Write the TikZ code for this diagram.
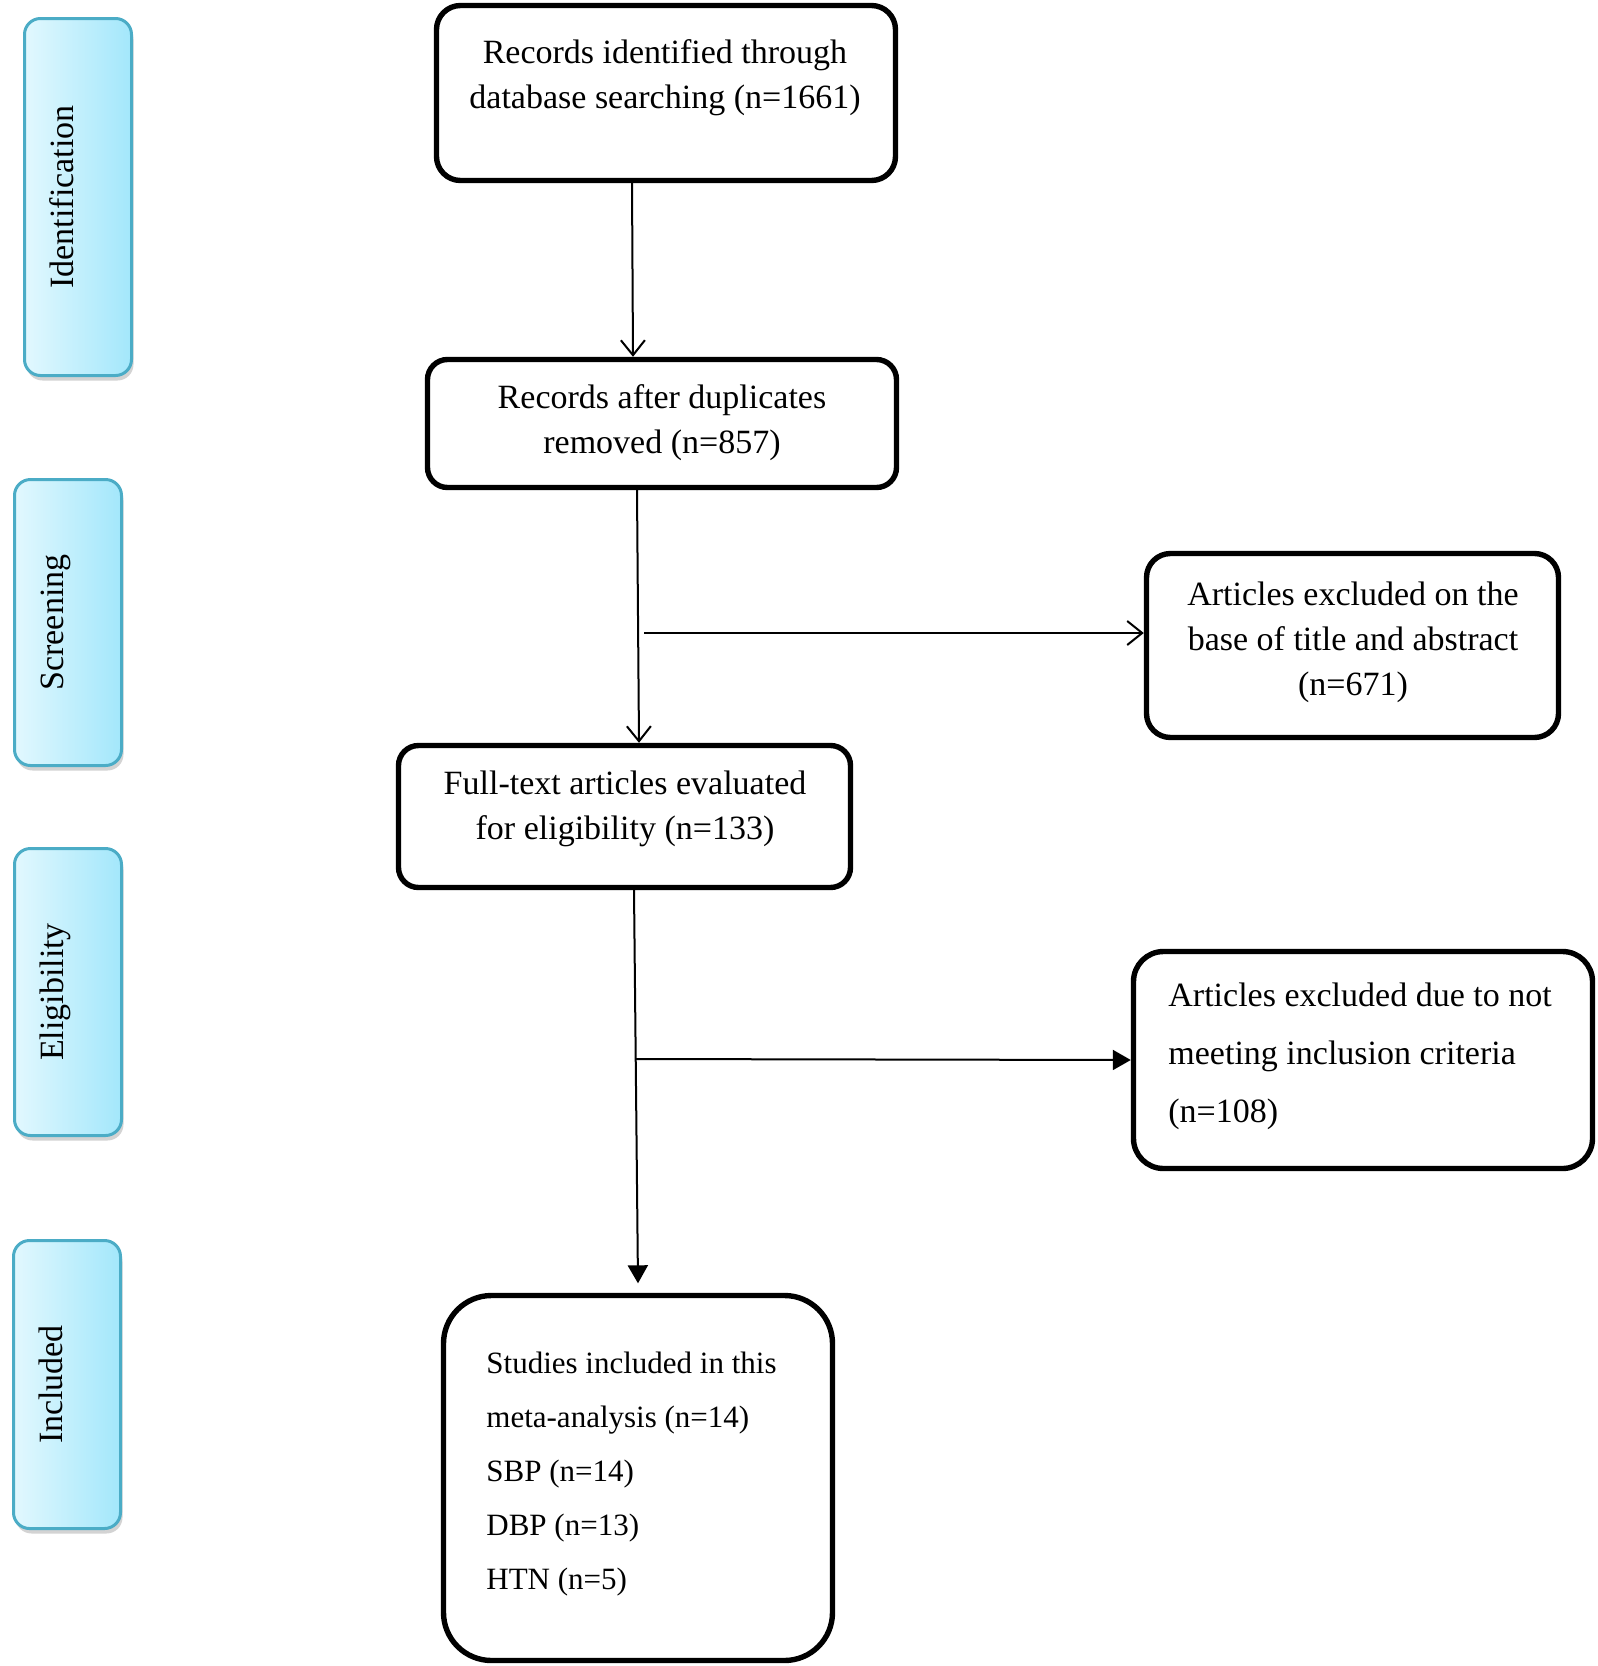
\documentclass[tikz,border=0pt]{standalone}
\usepackage{fontspec}
\setmainfont{Liberation Serif}
\usetikzlibrary{arrows.meta,shadows}

\definecolor{stageedge}{HTML}{4BACC6}
\definecolor{stageleft}{HTML}{E2F8FE}
\definecolor{stageright}{HTML}{A3E7FB}

\tikzset{
	stage/.style={draw=stageedge, line width=1.5pt, rounded corners=8pt, left color=stageleft, right color=stageright,
		minimum width=53.5pt, inner sep=0pt, drop shadow={shadow xshift=1pt, shadow yshift=-2.5pt, opacity=0.35}},
	stagetext/.style={rotate=90, anchor=base, inner sep=0pt, font=\fontsize{17}{20}\selectfont},
	flowbox/.style={draw, line width=2.7pt, rounded corners=12pt, inner sep=0pt},
	boxtext/.style={inner sep=0pt, anchor=north, align=center, font=\fontsize{17}{22.5}\selectfont},
	openarr/.style={line width=1pt, -{Straight Barb[length=7.5pt, width=12pt, line width=1pt]}},
	filledarr/.style={line width=1pt, -{Triangle[length=9pt, width=10pt]}}
}

\begin{document}
\begin{tikzpicture}[x=0.5pt, y=-0.5pt]
		\useasboundingbox (0,0) rectangle (1598,1666);

		% stages
		\node[stage, minimum height=178.5pt] (id) at (78,197) {};
		\node[stage, minimum height=143pt] (scr) at (68,622.5) {};
		\node[stage, minimum height=143.5pt] (eli) at (68,992) {};
		\node[stage, minimum height=144pt] (inc) at (67,1384.5) {};

		\node[stagetext] (id-t) at ([xshift=-2.5pt]id.center) {Identification};
		\node[stagetext] (scr-t) at ([xshift=-2.5pt]scr.center) {Screening};
		\node[stagetext] (eli-t) at ([xshift=-2.5pt]eli.center) {Eligibility};
		\node[stagetext] (inc-t) at ([xshift=-2.5pt]inc.center) {Included};

		% boxes
		\node[flowbox, minimum width=229.5pt, minimum height=87.5pt] (rec) at (666,93) {};
		\node[flowbox, minimum width=234.5pt, minimum height=64pt, rounded corners=10pt] (dup) at (662,423.5) {};
		\node[flowbox, minimum width=206pt, minimum height=92pt] (exc1) at (1352.5,645.5) {};
		\node[flowbox, minimum width=226pt, minimum height=71pt, rounded corners=10pt] (full) at (624.5,816.5) {};
		\node[flowbox, minimum width=229.5pt, minimum height=108.5pt, rounded corners=15pt] (exc2) at (1363,1060) {};
		\node[flowbox, minimum width=194.5pt, minimum height=182.5pt, rounded corners=24pt] (stud) at (638,1478) {};

		\node[boxtext] (rec-t) at (665,39.5) {Records identified through\\database searching (n=1661)};
		\node[boxtext] (dup-t) at (662,384.5) {Records after duplicates\\removed (n=857)};
		\node[boxtext] (exc1-t) at (1353,581.5) {Articles excluded on the\\base of title and abstract\\(n=671)};
		\node[boxtext] (full-t) at (625,770.5) {Full-text articles evaluated\\for eligibility (n=133)};
		\node[boxtext, anchor=north west, align=left, font=\fontsize{17}{29}\selectfont] (exc2-t) at (1168,982.5)
			{Articles excluded due to not\\meeting inclusion criteria\\(n=108)};
		\node[boxtext, anchor=north west, align=left, font=\fontsize{15.5}{27}\selectfont] (stud-t) at (486,1351.5)
			{Studies included in this\\meta-analysis (n=14)\\SBP (n=14)\\DBP (n=13)\\HTN (n=5)};

		% connectors
		\coordinate (br1) at (644,633);
		\coordinate (br2) at (635,1059);

		\draw[openarr] ([xshift=-17pt]rec.south) -- ([xshift=-14.5pt]dup.north);
		\draw[openarr] ([xshift=-12.5pt]dup.south) -- ([xshift=7.25pt]full.north);
		\draw[openarr] (br1) -- (br1 -| exc1.west);
		\draw[filledarr] ([xshift=4.75pt]full.south) -- ([xshift=0pt, yshift=4.75pt]stud.north);
		\draw[filledarr] (br2) -- (exc2.west);
\end{tikzpicture}
\end{document}
